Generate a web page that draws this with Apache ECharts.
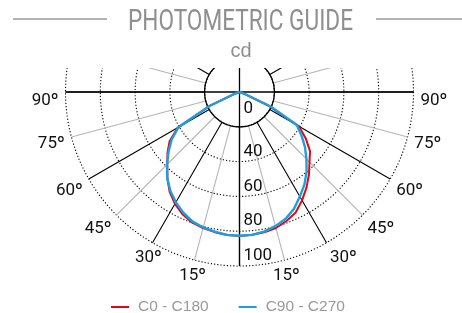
<!DOCTYPE html>
<html><head><meta charset="utf-8">
<script src="https://cdn.jsdelivr.net/npm/echarts@6/dist/echarts.min.js"></script>
<style>html,body{margin:0;padding:0;background:#fff}#c{width:462px;height:313px}</style>
</head><body><div id="c"></div>
<script>
// angle in degrees from the downward vertical; negative = right side, positive = left side
const angles = [-90,-85,-80,-75,-70,-65,-60,-55,-50,-45,-40,-35,-30,-25,-20,-15,-10,-5,0,5,10,15,20,25,30,35,40,45,50,55,60,65,70,75,80,85,90];
const seriesNames = ['C0 - C180', 'C90 - C270'];
const c0c180 = [0,0,0,1,2,18,39.5,46.5,52.9,56.9,62.1,67.1,71.9,76.4,78.9,80.9,81.9,82.3,82.8,82.5,81.8,81,79.8,77.5,74.2,70,64.5,58.7,54,49,41,19,2,1,0,0,0];
const c90c270 = [0,0,0,1,3,20,38,43.5,49.1,54.4,60,65,69.4,74.1,77.5,79.8,81.5,82.4,82.6,82.4,81.5,80.6,79.1,76.5,73.2,69.3,64.6,58.9,53.2,47.6,40.5,19,3,1,0,0,0];
const radiusMax = 100;
const radiusStep = 20;
const angleStep = 15;
const titleText = 'PHOTOMETRIC GUIDE';
const unitText = 'cd';

const LABF = 'Roboto,"Liberation Sans",sans-serif';
const SANS = '"Liberation Sans",Arial,sans-serif';
const C = [239.5, 92];
const R = 174;

// fit the condensed-looking title into its width
const TITLE_FONT = '29px Roboto';
const cv = document.createElement('canvas').getContext('2d');
cv.font = TITLE_FONT;
const titleScale = 225 / cv.measureText(titleText).width;

const chart = echarts.init(document.getElementById('c'), null, {renderer: 'canvas'});
const lab = (extra) => Object.assign({fontFamily: LABF, fontSize: 17, color: '#111'}, extra || {});

chart.setOption({
  animation: false,
  backgroundColor: '#fff',
  polar: [
    {center: C, radius: [35, R]},
    {center: C, radius: R},
    {center: C, radius: R},
    {center: C, radius: 35}
  ],
  angleAxis: [
    { polarIndex: 0, type: 'value', min: -180, max: 180, interval: angleStep, startAngle: 90, clockwise: true,
      axisLine: {show: false}, axisTick: {show: false},
      splitLine: {show: true, lineStyle: {color: ['#000', '#b5b5b5'], width: 1.1}},
      axisLabel: {
        show: true, margin: 7,
        formatter: function (v) {
          if (v === 0 || Math.abs(v) > 90) return '';
          const t = Math.abs(v) + 'º';
          if (Math.abs(v) === 90) return '{h|' + t + '}';
          if (Math.abs(v) === 75) return '{s|' + t + '}';
          if (v === 30) return '{w|' + t + '}';
          return '{n|' + t + '}';
        },
        rich: {
          h: lab({padding: [18, 0, 0, 0]}),
          s: lab({padding: [9, 0, 0, 0]}),
          w: lab({width: 14, align: 'left'}),
          n: lab()
        }
      }
    },
    { polarIndex: 1, type: 'value', min: -180, max: 180, interval: 90, startAngle: 90, clockwise: true,
      axisLine: {show: false}, axisTick: {show: false}, axisLabel: {show: false},
      splitLine: {show: true, lineStyle: {color: '#000', width: 1.3}}
    },
    { polarIndex: 2, type: 'value', min: 0, max: 360, startAngle: 270, clockwise: true,
      axisLine: {show: false}, axisTick: {show: false}, axisLabel: {show: false}, splitLine: {show: false}
    },
    { polarIndex: 3, type: 'value', min: 0, max: 360, startAngle: 90,
      axisLine: {show: true, lineStyle: {color: '#000', width: 1.3}},
      axisTick: {show: false}, axisLabel: {show: false}, splitLine: {show: false}
    }
  ],
  radiusAxis: [
    {polarIndex: 0, type: 'value', min: 0, max: radiusMax, show: false},
    { polarIndex: 1, type: 'value', min: 0, max: radiusMax, interval: radiusStep,
      axisLine: {show: false}, axisTick: {show: false}, axisLabel: {show: false},
      splitLine: {show: true, lineStyle: {color: '#000', width: 1.1, type: [1.2, 2]}}
    },
    { polarIndex: 2, type: 'value', min: 0, max: radiusMax, interval: radiusStep,
      axisLine: {show: false}, axisTick: {show: false}, splitLine: {show: false},
      axisLabel: {
        show: true, margin: 4, showMinLabel: true, showMaxLabel: true,
        formatter: function (v) {
          if (v === 20) return '';
          if (v === 0) return '{z|0}';
          return '{a|' + v + '}';
        },
        rich: {
          z: lab({padding: [33, 0, 0, 0]}),
          a: lab({padding: [0, 0, 20, 0]})
        }
      }
    },
    {polarIndex: 3, type: 'value', min: 0, max: radiusMax, show: false}
  ],
  legend: {
    data: seriesNames,
    left: 111, top: 299, padding: 0,
    icon: 'rect', itemWidth: 18, itemHeight: 2, itemGap: 30,
    textStyle: {color: '#9a9a9a', fontSize: 15.5, fontFamily: SANS, padding: [0, 0, 0, 4]}
  },
  graphic: [
    {type: 'rect', z: 50, shape: {x: 0, y: 0, width: 462, height: 68}, style: {fill: '#fff'}},
    {type: 'line', z: 51, shape: {x1: 13, y1: 19, x2: 107, y2: 19}, style: {stroke: '#9a9a9a', lineWidth: 1.5}},
    {type: 'line', z: 51, shape: {x1: 376, y1: 19, x2: 462, y2: 19}, style: {stroke: '#9a9a9a', lineWidth: 1.5}},
    {type: 'text', z: 52, x: 240.5, y: 23, scaleX: titleScale,
      style: {text: titleText, fill: '#8f8f8f', font: TITLE_FONT, textAlign: 'center', textVerticalAlign: 'middle'}},
    {type: 'text', z: 52, x: 241, y: 51, style: {text: unitText, fill: '#8f8f8f', font: '20px ' + SANS, textAlign: 'center', textVerticalAlign: 'middle'}}
  ],
  series: [
    { name: seriesNames[0], type: 'line', coordinateSystem: 'polar', polarIndex: 1,
      showSymbol: false, symbol: 'none', smooth: false,
      lineStyle: {color: '#e30613', width: 2}, itemStyle: {color: '#e30613'},
      data: angles.map((a, i) => [c0c180[i], a])
    },
    { name: seriesNames[1], type: 'line', coordinateSystem: 'polar', polarIndex: 1,
      showSymbol: false, symbol: 'none', smooth: false,
      lineStyle: {color: '#1c9fe0', width: 2.4}, itemStyle: {color: '#1c9fe0'},
      data: angles.map((a, i) => [c90c270[i], a])
    }
  ]
});
</script></body></html>
